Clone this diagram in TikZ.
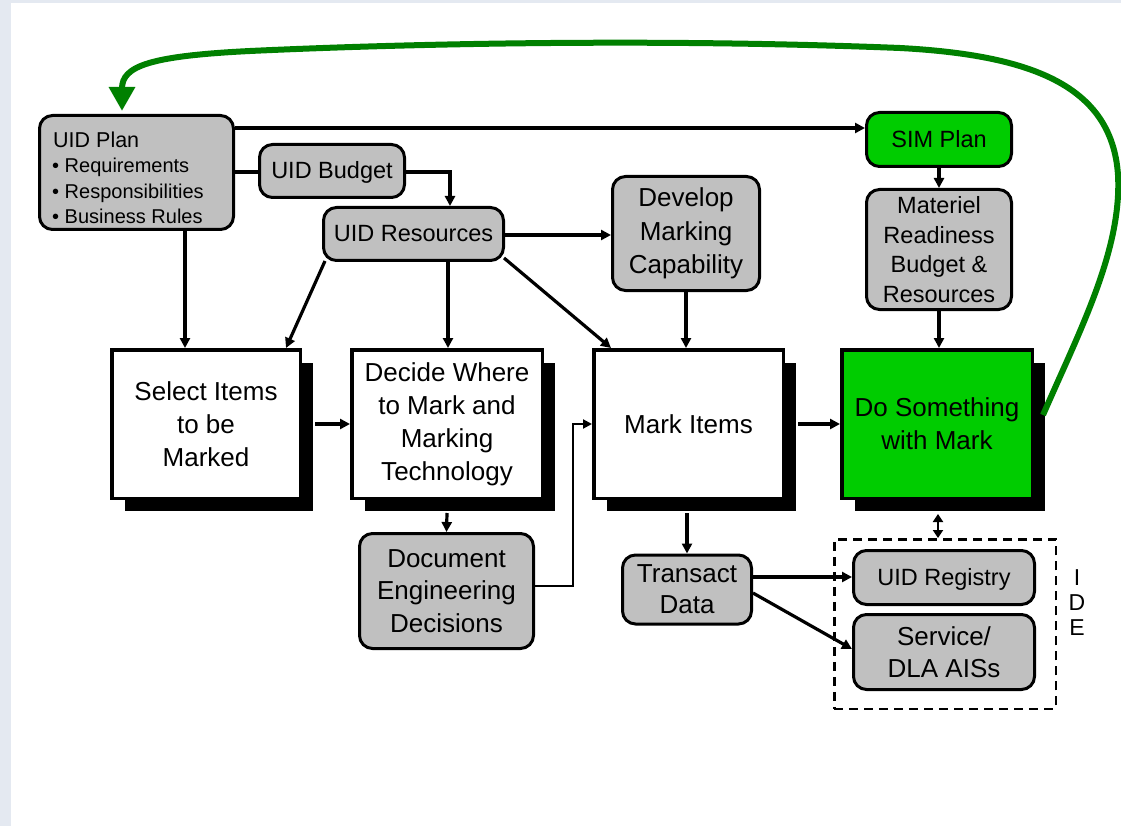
\documentclass[tikz,border=0pt]{standalone}
\usepackage{fontspec}
\setmainfont{Liberation Sans}
\usetikzlibrary{arrows.meta,shadows,calc}
\definecolor{boxgray}{HTML}{C0C0C0}
\definecolor{boxgreen}{HTML}{00CC00}
\definecolor{curvegreen}{HTML}{008000}
\definecolor{bgstrip}{HTML}{E4E9F1}
\begin{document}
\begin{tikzpicture}[x=1pt,y=-1pt,
  rbox/.style={draw=black, line width=3pt, fill=boxgray, rounded corners=13pt,
    align=center, inner sep=0pt, font=\fontsize{26}{33}\selectfont},
  mbox/.style={rbox, font=\fontsize{23.5}{29.5}\selectfont},
  bigbox/.style={draw=black, line width=3.5pt, fill=white, align=center, inner sep=0pt,
    minimum height=148.5pt, font=\fontsize{26}{33}\selectfont,
    drop shadow={shadow xshift=13pt, shadow yshift=-13pt, opacity=1, fill=black}},
  conn/.style={line width=3.2pt, -{Triangle[length=10pt,width=10pt]}},
  thinconn/.style={line width=2pt, -{Triangle[length=9pt,width=9pt]}},
  plain/.style={line width=3.2pt},
  smalltxt/.style={anchor=base west, inner sep=0pt, font=\fontsize{20}{25}\selectfont}
]
\useasboundingbox (0,0) rectangle (1121,826);
\fill[white] (0,0) rectangle (1121,826);
\fill[bgstrip] (0,0) rectangle (11,826);
\fill[bgstrip] (0,0) rectangle (1121,3);

% rounded grey / green boxes
\node[rbox, minimum width=194pt, minimum height=114pt] (plan) at (136.5,172.5) {};
\node[smalltxt, font=\fontsize{21.5}{25}\selectfont] (plant1) at (53,148) {UID Plan};
\node[smalltxt] (plant2) at (52,173) {\textbullet{} Requirements};
\node[smalltxt] (plant3) at (52,198.5) {\textbullet{} Responsibilities};
\node[smalltxt] (plant4) at (52,224) {\textbullet{} Business Rules};

\node[mbox, minimum width=145pt, minimum height=53pt, text depth=2pt] (budget) at (332,171) {UID Budget};
\node[mbox, minimum width=180pt, minimum height=53pt, text depth=2pt] (res) at (413.5,234) {UID Resources};
\node[rbox, minimum width=147pt, minimum height=114pt, font=\fontsize{26}{33.5}\selectfont] (develop) at (686,233.5) {Develop\\Marking\\Capability};
\node[mbox, fill=boxgreen, minimum width=145pt, minimum height=54pt, text depth=2pt] (sim) at (939,139.5) {SIM Plan};
\node[mbox, minimum width=145pt, minimum height=120pt] (mat) at (939,249.5) {Materiel\\Readiness\\Budget \&\\Resources};

% big boxes
\node[bigbox, minimum width=188.5pt] (select) at (206,424) {Select Items\\to be\\Marked};
\node[bigbox, minimum width=190.5pt] (decide) at (447,424) {Decide Where\\to Mark and\\Marking\\Technology};
\node[bigbox, minimum width=189.5pt] (mark) at (688.5,424) {Mark Items};
\node[bigbox, minimum width=190.5pt, fill=boxgreen] (do) at (937,424) {Do Something\\with Mark};

% lower boxes
\node[rbox, minimum width=174pt, minimum height=115pt, font=\fontsize{26}{32.5}\selectfont] (doc) at (446.5,591) {Document\\Engineering\\Decisions};
\node[rbox, minimum width=129pt, minimum height=69pt, font=\fontsize{26}{31}\selectfont] (transact) at (687,589.5) {Transact\\Data};
\node[draw=black, line width=2.5pt, dash pattern=on 9pt off 6pt, minimum width=221.5pt, minimum height=169.5pt, inner sep=0pt] (ide) at (945,624) {};
\node[mbox, minimum width=181pt, minimum height=54pt, text depth=2pt] (reg) at (944,577.5) {UID Registry};
\node[rbox, minimum width=181pt, minimum height=75pt, font=\fontsize{26}{32}\selectfont] (service) at (944,652) {Service/\\DLA AISs};
\node[align=center, inner sep=0pt, font=\fontsize{23}{25}\selectfont] (idelabel) at (1077,603) {I\\D\\E};

% connectors
\draw[conn] (plan.east |- 0,128) -- (sim.west |- 0,128);
\draw[plain] (plan.east |- 0,172) -- (budget.west |- 0,172);
\draw[conn] (budget.east |- 0,172) -| (res.north -| 450,0);
\draw[conn] (plan.south -| 185,0) -- (select.north -| 185,0);
\draw[conn] ([xshift=3pt,yshift=1pt]res.south west) -- (select.north -| 286,0);
\draw[conn] (res.south -| 448,0) -- (decide.north -| 448,0);
\draw[conn] ([xshift=-1pt,yshift=4pt]res.south east) -- (mark.north -| 611,0);
\draw[conn] (res.east |- 0,235) -- (develop.west |- 0,235);
\draw[conn] (develop.south) -- (mark.north -| develop.south);
\draw[conn] (sim.south) -- (mat.north);
\draw[conn] (mat.south) -- (do.north -| mat.south);
\draw[conn] ([xshift=13pt]select.east) -- (decide.west);
\draw[conn] ([xshift=13pt]mark.east) -- (do.west);
\draw[conn] ([yshift=-13pt]decide.south) -- (doc.north);
\draw[conn] ([yshift=-13pt]mark.south -| transact.north) -- (transact.north);
\draw[thinconn] (doc.east |- 0,586) -- (573,586) -- (573,424) -- (mark.west);
\draw[conn] (transact.east |- 0,577) -- (reg.west |- 0,577);
\draw[conn] (transact.east |- 0,593) -- (service.west |- 0,649);
\draw[line width=2.5pt, {Triangle[length=8pt,width=10pt]}-{Triangle[length=8pt,width=10pt]}]
  ([xshift=1pt,yshift=-14pt]do.south) -- (ide.north -| 938,0);

% green feedback curve
\coordinate (gs) at (1043,415);
\draw[line width=6pt, curvegreen, -{Triangle[length=24pt,width=25pt]}]
  (gs) .. controls (1080,330) and (1122,250) .. (1118,175)
       .. controls (1112,85) and (1030,55) .. (900,48)
       .. controls (650,38) and (400,44) .. (250,51)
       .. controls (150,56) and (122,66) .. (122,111);
\end{tikzpicture}
\end{document}
